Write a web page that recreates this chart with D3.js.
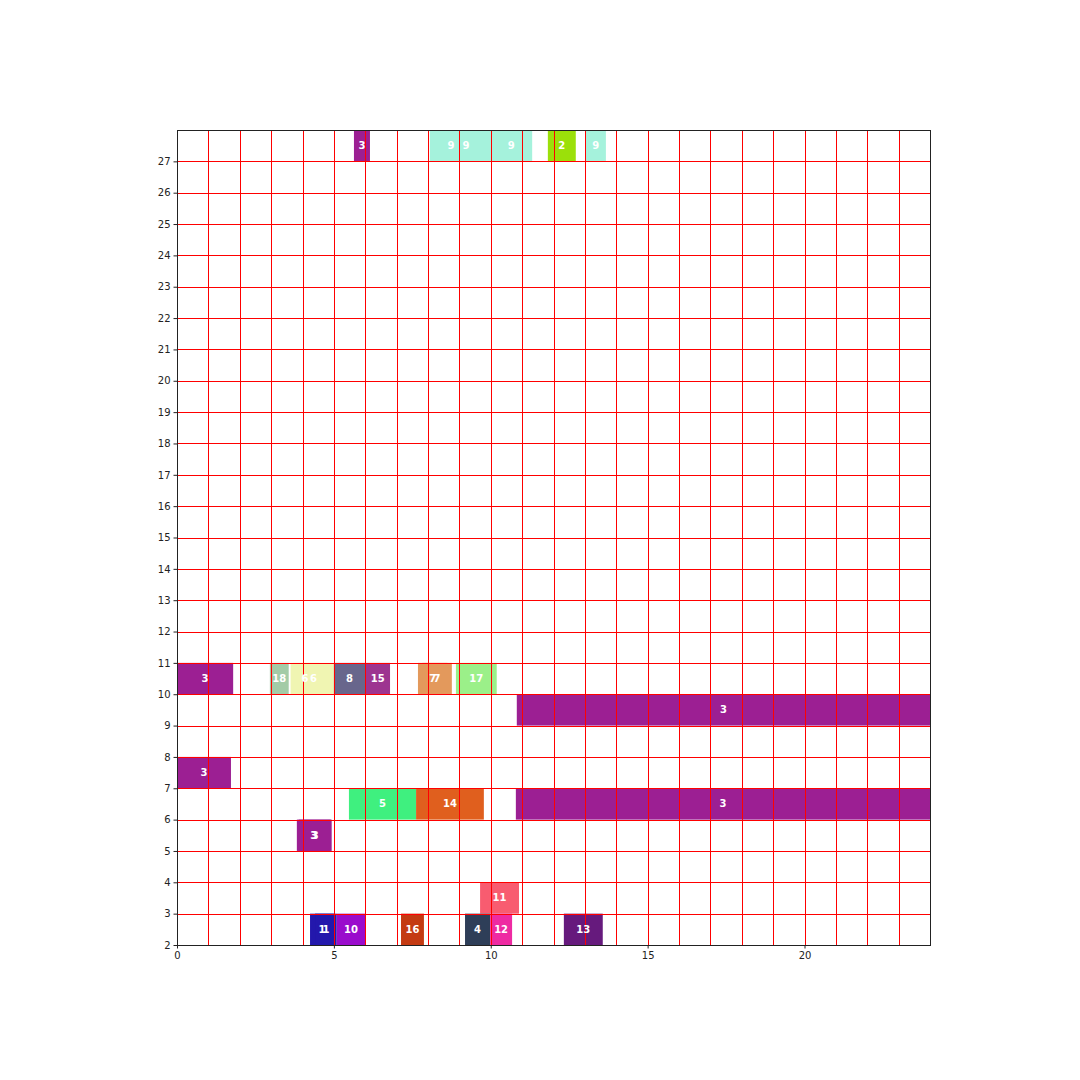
<!DOCTYPE html>
<html>
<head>
<meta charset="utf-8">
<script src="https://cdn.jsdelivr.net/npm/d3@7"></script>
<style>
  html, body { margin: 0; padding: 0; background: #ffffff; }
  svg { display: block; }
</style>
</head>
<body>
<svg id="chart" width="1080" height="1080"></svg>
<script>
// ---- data ----
const taskLabels = ["3","9","9","9","2","9",
                    "3","18","6","6","8","15","7","7","17",
                    "3",
                    "3",
                    "5","14","3",
                    "3","3",
                    "11",
                    "1","1","10","16","4","12","13"];
const taskStarts = [5.64, 8.06, 8.42, 9.98, 11.82, 13.02,
                    0.00, 2.96, 3.62, 3.70, 5.00, 6.00, 7.68, 7.82, 8.89,
                    10.83,
                    0.00,
                    5.48, 7.62, 10.80,
                    3.82, 3.88,
                    9.66,
                    4.24, 4.40, 5.09, 7.14, 9.18, 9.98, 12.33];
const taskEnds   = [6.15, 9.40, 10.00, 11.32, 12.71, 13.67,
                    1.79, 3.56, 4.54, 5.00, 6.00, 6.79, 8.62, 8.76, 10.19,
                    24.00,
                    1.72,
                    7.62, 9.78, 24.00,
                    4.90, 4.93,
                    10.90,
                    5.00, 5.09, 6.00, 7.87, 9.98, 10.68, 13.57];
const taskRows   = [27, 27, 27, 27, 27, 27,
                    10, 10, 10, 10, 10, 10, 10, 10, 10,
                    9,
                    7,
                    6, 6, 6,
                    5, 5,
                    3,
                    2, 2, 2, 2, 2, 2, 2];
const taskColors = ["#9c1f93","#a5f2dc","#a5f2dc","#a5f2dc","#9be00a","#a5f2dc",
                    "#9c1f93","#a3cba7","#f0f5b2","#f0f5b2","#68668c","#9d3490","#e3995c","#e3995c","#9bf089",
                    "#9c1f93",
                    "#9c1f93",
                    "#3ff07f","#e05f1e","#9c1f93",
                    "#9c1f93","#9c1f93",
                    "#f85c70",
                    "#2318ac","#2318ac","#9a0ccc","#c43a12","#2e3e58","#ee2aa2","#661a7d"];
const xTicks = [0, 5, 10, 15, 20];
const yTicks = [2,3,4,5,6,7,8,9,10,11,12,13,14,15,16,17,18,19,20,21,22,23,24,25,26,27];
const xDomain = [0, 24];
const yDomain = [2, 28];

// ---- layout ----
const mLeft = 177, mRight = 930, mTop = 130, mBottom = 945;
const svg = d3.select("#chart");
const x = d3.scaleLinear().domain(xDomain).range([mLeft, mRight]);
const y = d3.scaleLinear().domain(yDomain).range([mBottom, mTop]);
const snap = v => Math.round(v) + 0.5;

const tasks = taskLabels.map((l, i) => ({
  label: l, x0: taskStarts[i], x1: taskEnds[i], row: taskRows[i], color: taskColors[i]
}));

svg.append("defs").append("clipPath").attr("id", "plotclip")
  .append("rect").attr("x", mLeft).attr("y", mTop).attr("width", mRight - mLeft).attr("height", mBottom - mTop);

const plot = svg.append("g").attr("clip-path", "url(#plotclip)");

plot.selectAll("rect.task").data(tasks).join("rect")
  .attr("class", "task")
  .attr("x", d => x(d.x0))
  .attr("width", d => x(d.x1) - x(d.x0))
  .attr("y", d => y(d.row + 1))
  .attr("height", d => y(d.row) - y(d.row + 1))
  .attr("fill", d => d.color);

// grid (every integer), drawn over the bars
const gridX = d3.range(xDomain[0] + 1, xDomain[1]);
const gridY = d3.range(yDomain[0] + 1, yDomain[1]);
plot.selectAll("line.gx").data(gridX).join("line")
  .attr("class", "gx")
  .attr("x1", d => snap(x(d))).attr("x2", d => snap(x(d)))
  .attr("y1", mTop).attr("y2", mBottom)
  .attr("stroke", "#ff0000").attr("stroke-width", 1)
  .attr("shape-rendering", "crispEdges");
plot.selectAll("line.gy").data(gridY).join("line")
  .attr("class", "gy")
  .attr("y1", d => snap(y(d))).attr("y2", d => snap(y(d)))
  .attr("x1", mLeft).attr("x2", mRight)
  .attr("stroke", "#ff0000").attr("stroke-width", 1)
  .attr("shape-rendering", "crispEdges");

// labels
plot.selectAll("text.lbl").data(tasks).join("text")
  .attr("class", "lbl")
  .attr("x", d => x((d.x0 + d.x1) / 2))
  .attr("y", d => y(d.row + 0.5))
  .attr("text-anchor", "middle")
  .attr("dominant-baseline", "central")
  .attr("fill", "#ffffff")
  .attr("font-family", "DejaVu Sans, sans-serif")
  .attr("font-weight", "bold")
  .attr("font-size", "10px")
  .text(d => d.label);

// axes
const xAxis = d3.axisBottom(x).tickValues(xTicks).tickSize(3.5).tickPadding(3).tickFormat(d3.format("d"));
const yAxis = d3.axisLeft(y).tickValues(yTicks).tickSize(3.5).tickPadding(3).tickFormat(d3.format("d"));

const gx = svg.append("g").attr("transform", `translate(0,${mBottom})`).call(xAxis);
const gy = svg.append("g").attr("transform", `translate(${mLeft},0)`).call(yAxis);
[gx, gy].forEach(g => {
  g.select(".domain").remove();
  g.selectAll(".tick line").attr("stroke", "#222");
  g.selectAll(".tick text").attr("fill", "#222")
    .attr("font-family", "DejaVu Sans, sans-serif").attr("font-size", "10px");
});

// frame
svg.append("rect").attr("x", mLeft + 0.5).attr("y", mTop + 0.5)
  .attr("width", mRight - mLeft).attr("height", mBottom - mTop)
  .attr("fill", "none").attr("stroke", "#222").attr("stroke-width", 1)
  .attr("shape-rendering", "crispEdges");
</script>
</body>
</html>
